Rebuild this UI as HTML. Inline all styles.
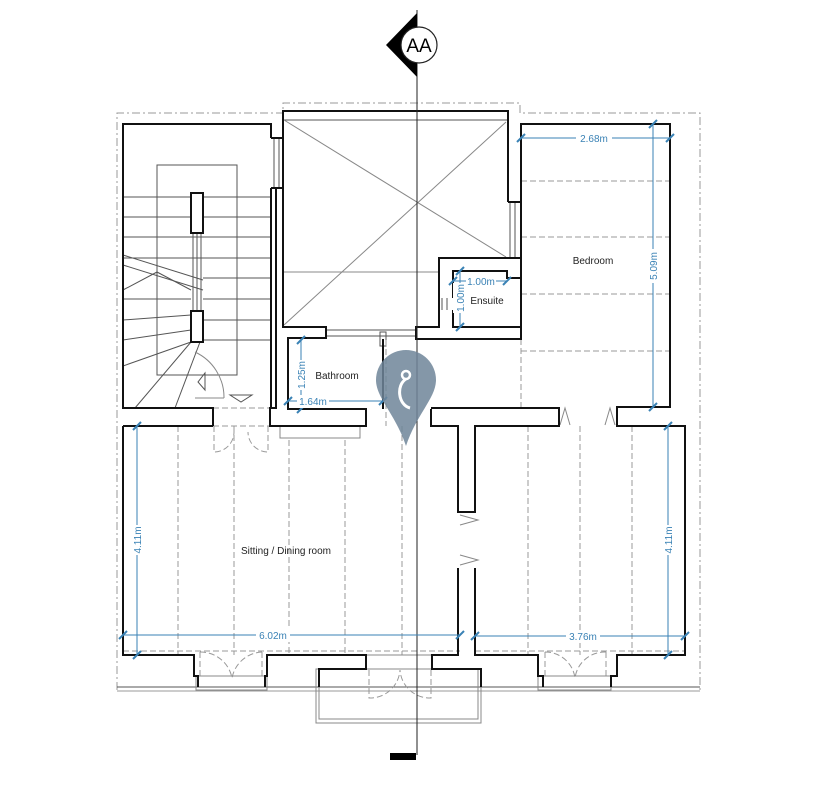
<!DOCTYPE html>
<html><head><meta charset="utf-8"><style>
html,body{margin:0;padding:0;background:#fff;}
svg{display:block;}
text{font-family:"Liberation Sans",sans-serif;}
</style></head><body>
<svg width="813" height="800" viewBox="0 0 813 800" xmlns="http://www.w3.org/2000/svg">
<rect width="813" height="800" fill="#fff"/>
<g fill="none" stroke="#999" stroke-width="1" stroke-dasharray="8,3,2,3">
<polyline points="117,690 117,113 283,113 283,103 520,103 520,113 700,113 700,690"/>
</g>
<line x1="117" y1="687" x2="700" y2="687" stroke="#555" stroke-width="1"/>
<line x1="117" y1="691" x2="700" y2="691" stroke="#999" stroke-width="1"/>

<g fill="none" stroke="#555" stroke-width="1">
<rect x="157" y="165" width="80" height="210"/>
<line x1="123" y1="197" x2="271" y2="197"/><line x1="123" y1="217" x2="271" y2="217"/>
<line x1="123" y1="237" x2="271" y2="237"/><line x1="123" y1="258" x2="271" y2="258"/>
<line x1="203" y1="278" x2="271" y2="278"/><line x1="123" y1="299" x2="191" y2="299"/><line x1="203" y1="299" x2="271" y2="299"/>
<line x1="123" y1="320" x2="191" y2="315"/><line x1="203" y1="320" x2="271" y2="320"/>
<line x1="123" y1="340" x2="191" y2="330"/><line x1="203" y1="340" x2="271" y2="340"/>
<line x1="123" y1="366" x2="191" y2="342"/>
<line x1="123" y1="255" x2="203" y2="280"/><line x1="123" y1="265" x2="203" y2="290"/>
<polyline points="123,290 157,272 191,290"/>
<line x1="135" y1="408" x2="191" y2="342"/><line x1="175" y1="408" x2="200" y2="342"/>
<path d="M195,352 A50,50 0 0 1 224,398" stroke="#888"/>
<line x1="195" y1="398" x2="224" y2="398" stroke="#888"/>
<polygon points="205,373 205,390 198,382"/>
<polygon points="230,395 252,395 241,402"/>
<line x1="197" y1="233" x2="197" y2="311"/>
<line x1="193" y1="233" x2="193" y2="311"/><line x1="201" y1="233" x2="201" y2="311"/>
<line x1="274" y1="138" x2="274" y2="188"/><line x1="279" y1="138" x2="279" y2="188"/>
<line x1="283" y1="120" x2="508" y2="120"/>
<line x1="284" y1="120" x2="506" y2="257" stroke="#888"/>
<line x1="506" y1="122" x2="284" y2="325" stroke="#888"/>
<line x1="283" y1="272" x2="440" y2="272" stroke="#888"/>
<line x1="510" y1="202" x2="510" y2="258"/><line x1="515" y1="202" x2="515" y2="258"/>
<line x1="326" y1="330" x2="416" y2="330"/><line x1="326" y1="336" x2="416" y2="336"/>
<rect x="380" y="332" width="6" height="14"/>
<line x1="442" y1="298" x2="442" y2="310"/><line x1="447" y1="298" x2="447" y2="310"/>
</g>
<g fill="none" stroke="#999" stroke-width="1" stroke-dasharray="6,3">
<line x1="521" y1="181" x2="670" y2="181"/><line x1="521" y1="237" x2="670" y2="237"/>
<line x1="521" y1="294" x2="670" y2="294"/><line x1="521" y1="351" x2="670" y2="351"/>
<line x1="521" y1="339" x2="521" y2="407"/>
<line x1="178" y1="426" x2="178" y2="655"/><line x1="234" y1="426" x2="234" y2="655"/>
<line x1="289" y1="440" x2="289" y2="655"/><line x1="345" y1="440" x2="345" y2="655"/>
<line x1="402" y1="426" x2="402" y2="655"/>
<line x1="528" y1="426" x2="528" y2="655"/><line x1="580" y1="426" x2="580" y2="655"/>
<line x1="632" y1="426" x2="632" y2="655"/>
<line x1="123" y1="408" x2="271" y2="408"/>
<line x1="123" y1="651" x2="460" y2="651"/><line x1="475" y1="651" x2="685" y2="651"/>
<line x1="213" y1="426" x2="270" y2="426"/>
<line x1="386" y1="340" x2="386" y2="426"/>
<path d="M214,426 L214,452 A20,20 0 0 0 234,432"/><path d="M268,426 L268,452 A20,20 0 0 1 248,432"/>
<path d="M200,652 L200,678 M200,652 A32,32 0 0 1 232,678"/>
<path d="M262,652 L262,678 M262,652 A32,32 0 0 0 232,678"/>
<path d="M369,670 L369,698 A30,30 0 0 0 400,670"/><path d="M431,670 L431,698 A30,30 0 0 1 400,670"/>
<path d="M545,652 L545,678 M545,652 A30,30 0 0 1 575,678"/>
<path d="M606,652 L606,678 M606,652 A30,30 0 0 0 575,678"/>
</g>
<g fill="none" stroke="#888" stroke-width="1">
<rect x="280" y="426" width="80" height="12"/>
<line x1="366" y1="655" x2="432" y2="655"/><line x1="366" y1="669" x2="432" y2="669"/>
<rect x="196" y="676" width="71" height="14"/><rect x="538" y="676" width="73" height="14"/>
<rect x="316" y="669" width="165" height="54"/>
<rect x="319" y="669" width="159" height="50"/>
<polyline points="560,425 565,408 570,425"/><polyline points="605,425 610,408 615,425"/>
<polyline points="460,515 478,520 460,525"/><polyline points="460,555 478,560 460,565"/>
</g>

<g fill="none" stroke="#111" stroke-width="2" stroke-linejoin="miter">
<polyline points="271,138 271,124 123,124 123,408 213,408 213,426"/>
<polyline points="271,188 271,408"/><polyline points="276,188 276,408 270,408 270,426 366,426 366,409 288,409 288,338 326,338 326,327 283,327 283,111 508,111 508,202"/>
<polyline points="271,138 283,138"/><polyline points="271,188 283,188"/>
<polyline points="416,338 416,327 439,327 439,298 439,258 521,258 521,124 670,124 670,407 617,407 617,426 670,426"/>
<polyline points="521,258 521,339 416,339 416,327"/>
<polyline points="453,298 453,271 507,271 507,278 521,278"/>
<polyline points="453,310 453,327 521,327"/>
<polyline points="508,202 521,202"/>
<polyline points="383,339 383,409"/>
<polyline points="431,409 431,426 458,426 458,512 475,512 475,426 559,426 559,408 431,408"/>
<polyline points="458,568 458,655 432,655 432,669 481,669 481,687"/>
<polyline points="475,568 475,655 538,655 538,676 543,676 543,687"/>
<polyline points="611,687 611,676 617,676 617,655 685,655 685,426 670,426"/>
<polyline points="123,426 123,655 194,655 194,676 198,676 198,687"/>
<polyline points="265,687 265,676 267,676 267,655 366,655 366,669 319,669 319,687"/>
<line x1="123" y1="426" x2="213" y2="426"/>
<rect x="191" y="193" width="12" height="40" fill="#fff"/>
<rect x="191" y="311" width="12" height="31" fill="#fff"/>
</g>

<line x1="417" y1="10" x2="417" y2="755" stroke="#222" stroke-width="1"/>
<rect x="390" y="753" width="26" height="7" fill="#000"/>
<polygon points="386,45 417,13 417,77" fill="#000"/>
<circle cx="419" cy="45" r="18" fill="#fff" stroke="#222" stroke-width="1.2"/>
<text x="419" y="52" font-size="19" text-anchor="middle" fill="#000">AA</text>

<g stroke="#3a82b5" stroke-width="1" fill="none">
<line x1="521" y1="138" x2="670" y2="138"/><line x1="653" y1="124" x2="653" y2="407"/>
<line x1="137" y1="426" x2="137" y2="655"/><line x1="123" y1="635" x2="460" y2="635"/>
<line x1="475" y1="636" x2="685" y2="636"/><line x1="668" y1="426" x2="668" y2="655"/>
<line x1="301" y1="340" x2="301" y2="409"/><line x1="288" y1="401" x2="383" y2="401"/>
<line x1="453" y1="281" x2="507" y2="281"/><line x1="460" y1="271" x2="460" y2="327"/>
</g>
<g stroke="#3a82b5" stroke-width="2">
<line x1="517" y1="142" x2="525" y2="134"/><line x1="666" y1="142" x2="674" y2="134"/>
<line x1="649" y1="128" x2="657" y2="120"/><line x1="649" y1="411" x2="657" y2="403"/>
<line x1="133" y1="430" x2="141" y2="422"/><line x1="133" y1="659" x2="141" y2="651"/>
<line x1="119" y1="639" x2="127" y2="631"/><line x1="456" y1="639" x2="464" y2="631"/>
<line x1="471" y1="640" x2="479" y2="632"/><line x1="681" y1="640" x2="689" y2="632"/>
<line x1="664" y1="430" x2="672" y2="422"/><line x1="664" y1="659" x2="672" y2="651"/>
<line x1="297" y1="344" x2="305" y2="336"/><line x1="297" y1="413" x2="305" y2="405"/>
<line x1="284" y1="405" x2="292" y2="397"/><line x1="379" y1="405" x2="387" y2="397"/>
<line x1="449" y1="285" x2="457" y2="277"/><line x1="503" y1="285" x2="511" y2="277"/>
<line x1="456" y1="275" x2="464" y2="267"/><line x1="456" y1="331" x2="464" y2="323"/>
</g>
<g font-size="10" fill="#3a82b5">
<rect x="576" y="131" width="36" height="13" fill="#fff"/><text x="594" y="142" text-anchor="middle">2.68m</text>
<rect x="297" y="395" width="32" height="13" fill="#fff"/><text x="313" y="405" text-anchor="middle">1.64m</text>
<rect x="466" y="275" width="30" height="12" fill="#fff"/><text x="481" y="285" text-anchor="middle">1.00m</text>
<rect x="256" y="629" width="34" height="13" fill="#fff"/><text x="273" y="639" text-anchor="middle">6.02m</text>
<rect x="566" y="630" width="34" height="13" fill="#fff"/><text x="583" y="640" text-anchor="middle">3.76m</text>
<g transform="translate(657,266) rotate(-90)"><rect x="-17" y="-11" width="34" height="13" fill="#fff"/><text x="0" y="0" text-anchor="middle">5.09m</text></g>
<g transform="translate(141,540) rotate(-90)"><rect x="-15" y="-11" width="30" height="13" fill="#fff"/><text x="0" y="0" text-anchor="middle">4.11m</text></g>
<g transform="translate(672,540) rotate(-90)"><rect x="-15" y="-11" width="30" height="13" fill="#fff"/><text x="0" y="0" text-anchor="middle">4.11m</text></g>
<g transform="translate(305,375) rotate(-90)"><rect x="-15" y="-11" width="30" height="13" fill="#fff"/><text x="0" y="0" text-anchor="middle">1.25m</text></g>
<g transform="translate(464,298) rotate(-90)"><rect x="-15" y="-11" width="30" height="13" fill="#fff"/><text x="0" y="0" text-anchor="middle">1.00m</text></g>
</g>
<g font-size="10" fill="#222">
<text x="593" y="264" text-anchor="middle">Bedroom</text>
<text x="487" y="304" text-anchor="middle">Ensuite</text>
<text x="337" y="379" text-anchor="middle">Bathroom</text>
<text x="286" y="554" text-anchor="middle">Sitting / Dining room</text>
</g>

<path d="M376,380 A30,30 0 1 1 436,380 C436,398 416,415 406,446 C396,415 376,398 376,380 Z" fill="#6f8599" opacity="0.85"/>
<circle cx="406" cy="375" r="4" fill="none" stroke="#fff" stroke-width="2.5"/>
<path d="M406,379 C396,385 398,405 410,408" fill="none" stroke="#fff" stroke-width="3"/>
</svg>
</body></html>
